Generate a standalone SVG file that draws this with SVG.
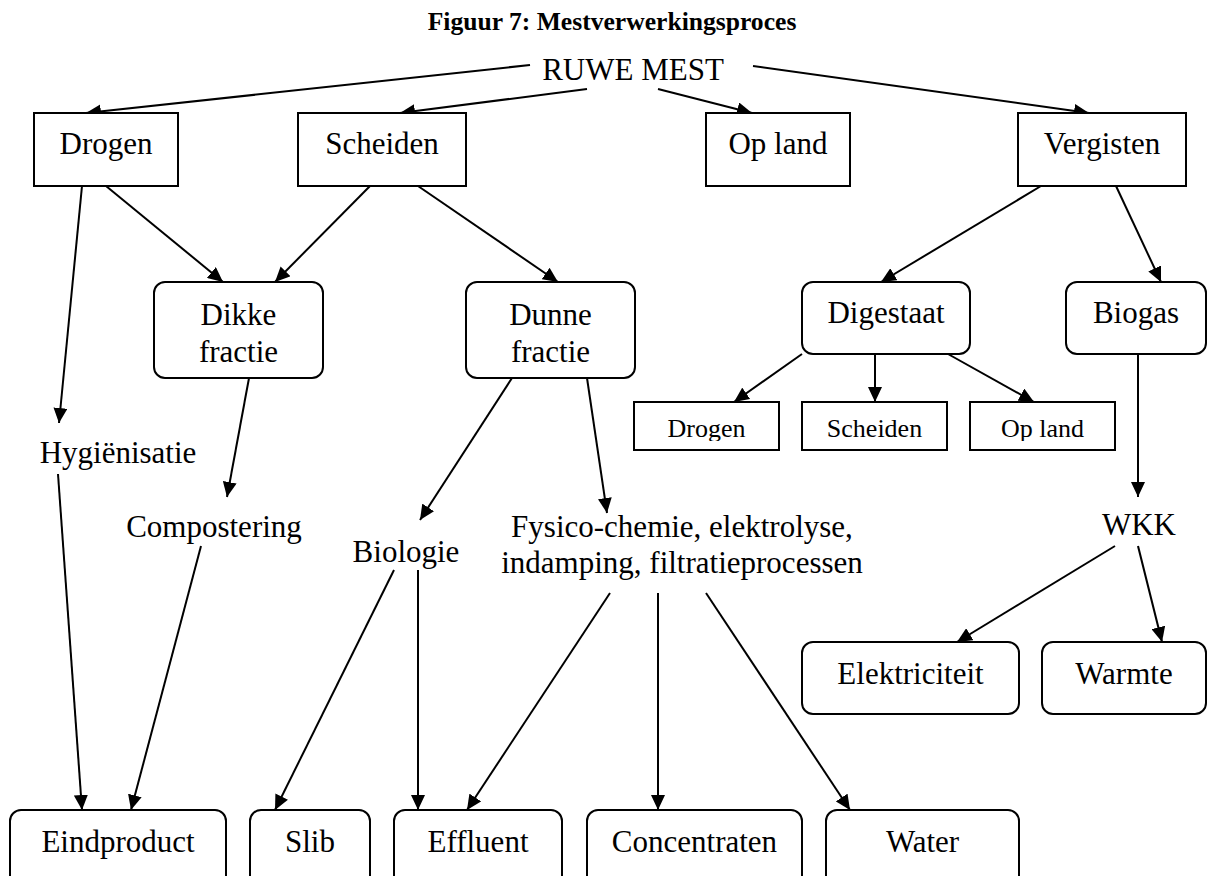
<svg xmlns="http://www.w3.org/2000/svg" width="1208" height="876" viewBox="0 0 1208 876">
<style>
.bg{fill:#fff}
.box{fill:#fff;stroke:#000;stroke-width:2}
.t{font-family:"Liberation Serif","Times New Roman",serif;font-size:31px;fill:#000;text-anchor:middle}
.ts{font-family:"Liberation Serif","Times New Roman",serif;font-size:26px;fill:#000;text-anchor:middle}
.title{font-family:"Liberation Serif","Times New Roman",serif;font-size:25.6px;font-weight:bold;fill:#000;text-anchor:middle}
.c{fill:none;stroke:#000;stroke-width:2;marker-end:url(#ah)}
</style>
<defs>
<marker id="ah" markerUnits="userSpaceOnUse" markerWidth="16" markerHeight="14" refX="15" refY="7" orient="auto">
<path d="M0,0 L15,7 L0,14 Z" fill="#000"/>
</marker>
<clipPath id="c1"><rect x="634" y="402" width="146" height="39"/></clipPath>
<clipPath id="c2"><rect x="802" y="402" width="146" height="39"/></clipPath>
<clipPath id="c3"><rect x="970" y="402" width="146" height="39"/></clipPath>
</defs>
<rect class="bg" x="0" y="0" width="1208" height="876"/>
<text class="title" x="612" y="30">Figuur 7: Mestverwerkingsproces</text>

<g id="connectors">
<path class="c" d="M530,65 L86,113"/>
<path class="c" d="M587,89 L400,113"/>
<path class="c" d="M658,89 L752,113"/>
<path class="c" d="M753,66 L1089,113"/>
<path class="c" d="M106,186 L223,282"/>
<path class="c" d="M370,186 L275,282"/>
<path class="c" d="M418,186 L558,282"/>
<path class="c" d="M82,186 L59,423"/>
<path class="c" d="M1041,186 L881,282"/>
<path class="c" d="M1116,186 L1161,282"/>
<path class="c" d="M249,378 L227,497"/>
<path class="c" d="M58,474 L82,810"/>
<path class="c" d="M201,546 L131,810"/>
<path class="c" d="M512,378 L420,520"/>
<path class="c" d="M587,378 L607,513"/>
<path class="c" d="M394,570 L275,810"/>
<path class="c" d="M418,570 L418,810"/>
<path class="c" d="M610,593 L467,810"/>
<path class="c" d="M658,593 L658,810"/>
<path class="c" d="M706,593 L850,810"/>
<path class="c" d="M802,354 L734,402"/>
<path class="c" d="M875,354 L875,402"/>
<path class="c" d="M948,354 L1034,402"/>
<path class="c" d="M1138,354 L1138,497"/>
<path class="c" d="M1115,546 L957,642"/>
<path class="c" d="M1138,546 L1162,642"/>
</g>

<g id="ruwe-mest"><text class="t" x="633" y="80">RUWE MEST</text></g>

<g id="drogen"><rect class="box" x="34" y="113" width="144" height="73"/><text class="t" x="106" y="154">Drogen</text></g>
<g id="scheiden"><rect class="box" x="298" y="113" width="168" height="73"/><text class="t" x="382" y="154">Scheiden</text></g>
<g id="op-land"><rect class="box" x="706" y="113" width="144" height="73"/><text class="t" x="778" y="154">Op land</text></g>
<g id="vergisten"><rect class="box" x="1018" y="113" width="168" height="73"/><text class="t" x="1102" y="154">Vergisten</text></g>

<g id="dikke-fractie"><rect class="box" x="154" y="282" width="169" height="96" rx="11"/><text class="t" x="238.5" y="325">Dikke</text><text class="t" x="238.5" y="362">fractie</text></g>
<g id="dunne-fractie"><rect class="box" x="466" y="282" width="169" height="96" rx="11"/><text class="t" x="550.5" y="325">Dunne</text><text class="t" x="550.5" y="362">fractie</text></g>
<g id="digestaat"><rect class="box" x="802" y="282" width="168" height="72" rx="11"/><text class="t" x="886" y="323">Digestaat</text></g>
<g id="biogas"><rect class="box" x="1066" y="282" width="140" height="72" rx="11"/><text class="t" x="1136" y="323">Biogas</text></g>

<g id="drogen-2"><rect class="box" x="634" y="402" width="145" height="48"/><text class="ts" x="706.5" y="437" clip-path="url(#c1)">Drogen</text></g>
<g id="scheiden-2"><rect class="box" x="802" y="402" width="145" height="48"/><text class="ts" x="874.5" y="437" clip-path="url(#c2)">Scheiden</text></g>
<g id="op-land-2"><rect class="box" x="970" y="402" width="145" height="48"/><text class="ts" x="1042.5" y="437" clip-path="url(#c3)">Op land</text></g>

<g id="hygienisatie"><text class="t" x="118" y="463">Hygiënisatie</text></g>
<g id="compostering"><text class="t" x="214" y="537">Compostering</text></g>
<g id="biologie"><text class="t" x="406" y="562">Biologie</text></g>
<g id="fysico"><text class="t" x="682" y="537">Fysico-chemie, elektrolyse,</text><text class="t" x="682" y="573">indamping, filtratieprocessen</text></g>
<g id="wkk"><text class="t" x="1139" y="535">WKK</text></g>

<g id="elektriciteit"><rect class="box" x="802" y="642" width="217" height="72" rx="11"/><text class="t" x="910.5" y="684">Elektriciteit</text></g>
<g id="warmte"><rect class="box" x="1042" y="642" width="164" height="72" rx="11"/><text class="t" x="1124" y="684">Warmte</text></g>

<g id="eindproduct"><rect class="box" x="10" y="810" width="216" height="90" rx="11"/><text class="t" x="118" y="852">Eindproduct</text></g>
<g id="slib"><rect class="box" x="250" y="810" width="120" height="90" rx="11"/><text class="t" x="310" y="852">Slib</text></g>
<g id="effluent"><rect class="box" x="394" y="810" width="168" height="90" rx="11"/><text class="t" x="478" y="852">Effluent</text></g>
<g id="concentraten"><rect class="box" x="587" y="810" width="215" height="90" rx="11"/><text class="t" x="694.5" y="852">Concentraten</text></g>
<g id="water"><rect class="box" x="826" y="810" width="193" height="90" rx="11"/><text class="t" x="922.5" y="852">Water</text></g>
</svg>
